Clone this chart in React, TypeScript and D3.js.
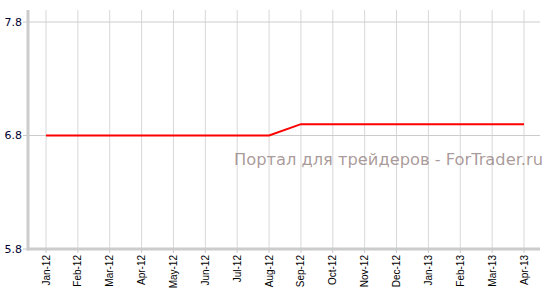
import React from "react";
import * as d3 from "d3";

const categories = ["Jan-12","Feb-12","Mar-12","Apr-12","May-12","Jun-12","Jul-12","Aug-12","Sep-12","Oct-12","Nov-12","Dec-12","Jan-13","Feb-13","Mar-13","Apr-13"];
const values = [6.8,6.8,6.8,6.8,6.8,6.8,6.8,6.8,6.9,6.9,6.9,6.9,6.9,6.9,6.9,6.9];
const yTicks = [5.8, 6.8, 7.8];
const watermark = "Портал для трейдеров - ForTrader.ru";

export default function App() {
  const W = 550, H = 298;
  const left = 28, right = 540, top = 10, bottom = 249;
  const x = d3.scalePoint<string>().domain(categories).range([46, 524]);
  const y = d3.scaleLinear().domain([5.8, 7.8]).range([249, 22]);
  const line = d3.line<number>().x((_, i) => x(categories[i])!).y(d => y(d));
  return (
    <svg width={W} height={H} style={{ position: "absolute", left: 0, top: 0, display: "block" }}>
      <rect width={W} height={H} fill="#fff" />
      {categories.map(c => (
        <line key={c} x1={x(c)} x2={x(c)} y1={top} y2={bottom} stroke="#d8d8d8" strokeWidth={1} />
      ))}
      {yTicks.map(t => (
        <g key={t}>
          <line x1={left} x2={right} y1={y(t)} y2={y(t)} stroke="#cccccc" strokeWidth={1} />
          <line x1={23} x2={left} y1={y(t)} y2={y(t)} stroke="#c8c8c8" strokeWidth={1} />
          <text x={22} y={y(t)} dy="0.35em" textAnchor="end" fontFamily="DejaVu Sans, Verdana, sans-serif" fontSize={11} fill="#000033">{t.toFixed(1)}</text>
        </g>
      ))}
      <text x={234} y={165} fontFamily="DejaVu Sans, Verdana, sans-serif" fontSize={16} fill="#7a6262" fillOpacity={0.65} textLength={309} lengthAdjust="spacingAndGlyphs">{watermark}</text>
      <line x1={left} x2={left} y1={top} y2={bottom + 1.5} stroke="#cccccc" strokeWidth={3} />
      <line x1={left - 1.5} x2={right} y1={bottom} y2={bottom} stroke="#cccccc" strokeWidth={3} />
      {categories.map(c => (
        <g key={c} transform={`translate(${x(c)},${bottom})`}>
          <line y1={0} y2={4} stroke="#c8c8c8" />
          <text transform="rotate(-90)" x={-6} dy="0.35em" textAnchor="end" fontFamily="Liberation Sans, Arial, sans-serif" fontSize={10} fill="#000">{c}</text>
        </g>
      ))}
      <path d={line(values)!} fill="none" stroke="#ff0000" strokeWidth={2} />
    </svg>
  );
}
